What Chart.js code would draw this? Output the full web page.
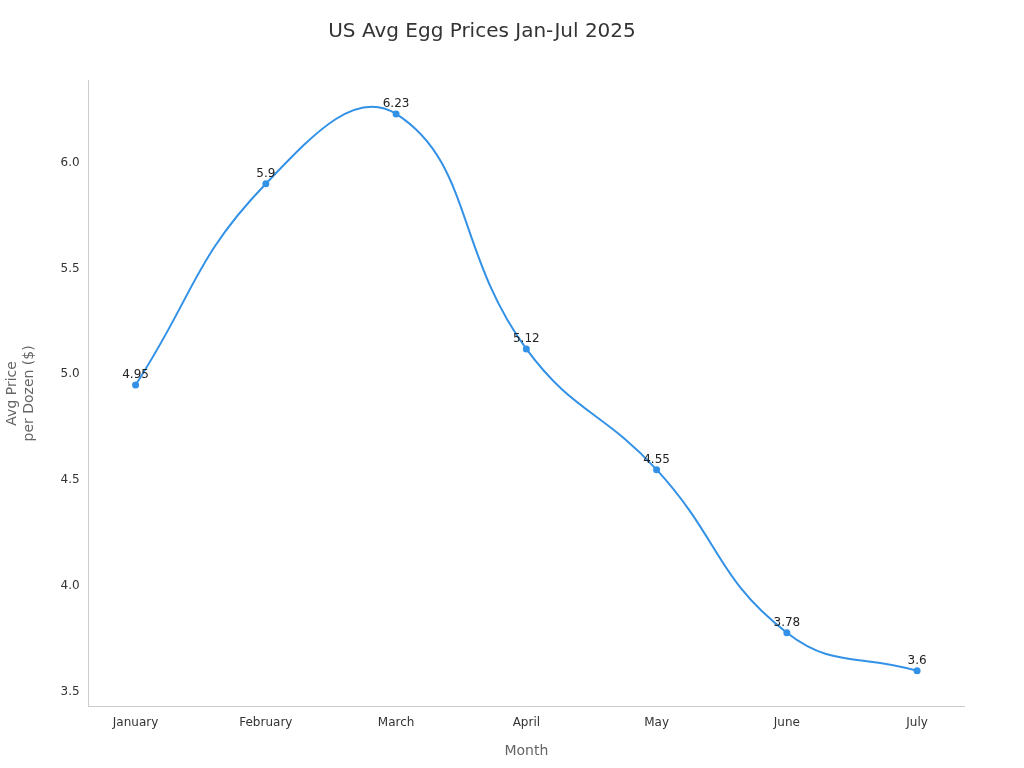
<!DOCTYPE html>
<html>
<head>
<meta charset="utf-8">
<script src="https://cdn.jsdelivr.net/npm/chart.js@4"></script>
<style>
  body { margin: 0; background: #fff; }
  #wrap { width: 1024px; height: 768px; }
</style>
</head>
<body>
<div id="wrap"><canvas id="chart"></canvas></div>
<script>
const months = ['January', 'February', 'March', 'April', 'May', 'June', 'July'];
const prices = [4.95, 5.9, 6.23, 5.12, 4.55, 3.78, 3.6];
const yTicks = [3.5, 4, 4.5, 5, 5.5, 6];

const points = prices.map((v, i) => ({ x: i, y: v }));

const valueLabels = {
  id: 'valueLabels',
  afterDatasetsDraw(chart) {
    const ctx = chart.ctx;
    const meta = chart.getDatasetMeta(0);
    ctx.save();
    ctx.font = '12px "DejaVu Sans"';
    ctx.fillStyle = '#222';
    ctx.textAlign = 'center';
    ctx.textBaseline = 'bottom';
    meta.data.forEach((pt, i) => {
      ctx.fillText(String(prices[i]), pt.x, pt.y - 4);
    });
    ctx.restore();
  }
};

new Chart(document.getElementById('chart'), {
  type: 'line',
  data: {
    datasets: [{
      data: points,
      borderColor: '#3391e6',
      backgroundColor: '#3391e6',
      borderWidth: 2,
      pointRadius: 2.5,
      tension: 0.45
    }]
  },
  options: {
    responsive: true,
    maintainAspectRatio: false,
    animation: false,
    layout: { padding: { top: 10, right: 60, left: 0, bottom: 4 } },
    plugins: {
      legend: { display: false },
      tooltip: { enabled: false },
      title: {
        display: true,
        text: 'US Avg Egg Prices Jan-Jul 2025',
        font: { family: 'DejaVu Sans', size: 20, weight: 'normal' },
        color: '#333',
        padding: { top: 10, bottom: 36 }
      }
    },
    scales: {
      x: {
        type: 'linear',
        min: -0.36,
        max: 6.36,
        afterBuildTicks(axis) { axis.ticks = months.map((m, i) => ({ value: i })); },
        ticks: {
          callback: v => months[v],
          font: { family: 'DejaVu Sans', size: 12 },
          color: '#333'
        },
        grid: { display: false, drawTicks: true, tickLength: 6 },
        border: { color: '#ccc' },
        title: {
          display: true, text: 'Month',
          font: { family: 'DejaVu Sans', size: 14 }, color: '#666',
          padding: { top: 10 }
        }
      },
      y: {
        min: 3.43,
        max: 6.39,
        afterBuildTicks(axis) { axis.ticks = yTicks.map(v => ({ value: v })); },
        ticks: {
          font: { family: 'DejaVu Sans', size: 12 },
          color: '#333'
        },
        grid: { display: false, drawTicks: true, tickLength: 6 },
        border: { color: '#ccc' },
        title: {
          display: true, text: ['Avg Price', 'per Dozen ($)'],
          font: { family: 'DejaVu Sans', size: 14 }, color: '#666',
          padding: { bottom: 20 }
        }
      }
    }
  },
  plugins: [valueLabels]
});
</script>
</body>
</html>
